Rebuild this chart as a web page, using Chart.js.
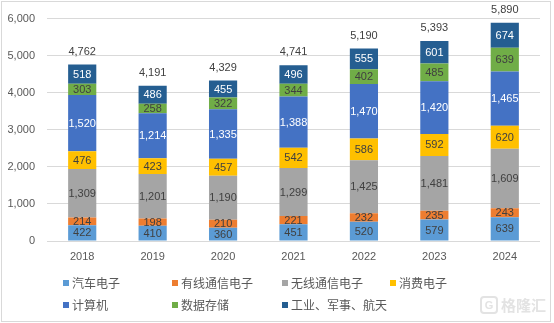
<!DOCTYPE html>
<html><head><meta charset="utf-8">
<script src="https://cdn.jsdelivr.net/npm/chart.js@4"></script>
<style>html,body{margin:0;padding:0;background:#fff}#wrap{width:554px;height:323px;position:relative}</style>
</head><body><div id="wrap"><canvas id="c" width="554" height="323"></canvas></div>
<script>
const categories = ['2018','2019','2020','2021','2022','2023','2024'];
const seriesNames = ['汽车电子','有线通信电子','无线通信电子','消费电子','计算机','数据存储','工业、军事、航天'];
const auto      = [422,410,360,451,520,579,639];
const wired     = [214,198,210,221,232,235,243];
const wireless  = [1309,1201,1190,1299,1425,1481,1609];
const consumer  = [476,423,457,542,586,592,620];
const computer  = [1520,1214,1335,1388,1470,1420,1465];
const storage   = [303,258,322,344,402,485,639];
const industry  = [518,486,455,496,555,601,674];
const totals    = [4762,4191,4329,4741,5190,5393,5890];
const yTicks    = [0,1000,2000,3000,4000,5000,6000];

const colors = ['#5B9BD5','#ED7D31','#A5A5A5','#FFC000','#4472C4','#70AD47','#255E91'];
const labelColors = ['#404040','#404040','#404040','#404040','#ffffff','#404040','#ffffff'];
const values = [auto,wired,wireless,consumer,computer,storage,industry];

const fmt = v => v.toLocaleString('en-US');

const labelPlugin = {
  id:'labels',
  afterDatasetsDraw(chart){
    const ctx = chart.ctx;
    ctx.save();
    ctx.font = '11px "Liberation Sans", Arial, sans-serif';
    ctx.textAlign='center'; ctx.textBaseline='middle';
    chart.data.datasets.forEach((ds,di)=>{
      const meta = chart.getDatasetMeta(di);
      meta.data.forEach((bar,i)=>{
        const p = bar.getProps(['x','y','base'],true);
        ctx.fillStyle = labelColors[di];
        ctx.fillText(fmt(ds.data[i]), p.x, (p.y+p.base)/2+0.5);
      });
    });
    const ys = chart.scales.y;
    const topMeta = chart.getDatasetMeta(chart.data.datasets.length-1);
    ctx.fillStyle='#404040';
    totals.forEach((t,i)=>{
      const x = topMeta.data[i].x;
      ctx.fillText(fmt(t), x, ys.getPixelForValue(t)-13);
    });
    ctx.restore();
  },
  afterDraw(chart){
    const ctx = chart.ctx;
    ctx.save();
    // legend
    const colX=[63,172,282,390], rowY=[283,305];
    ctx.font='12px "Noto Sans CJK SC", sans-serif';
    ctx.textBaseline='middle'; ctx.textAlign='left';
    seriesNames.forEach((n,k)=>{
      const x=colX[k%4], y=rowY[Math.floor(k/4)];
      ctx.fillStyle=colors[k];
      ctx.fillRect(x,y-3,6,6);
      ctx.fillStyle='#595959';
      ctx.fillText(n,x+9,y);
    });
    // watermark
    ctx.strokeStyle='#e3e3e3'; ctx.lineWidth=2;
    ctx.beginPath(); ctx.roundRect(481,297,16,16,3); ctx.stroke();
    ctx.fillStyle='#e3e3e3';
    ctx.font='bold 11px "Liberation Sans", sans-serif'; ctx.textAlign='center';
    ctx.fillText('G',489,305.5);
    ctx.font='bold 15px "Noto Sans CJK SC", sans-serif'; ctx.textAlign='left';
    ctx.fillText('格隆汇',501,305);
    // border
    ctx.strokeStyle='#d9d9d9'; ctx.lineWidth=1;
    ctx.strokeRect(1.5,1.5,549,320);
    ctx.restore();
  }
};

new Chart(document.getElementById('c'),{
  type:'bar',
  data:{
    labels:categories,
    datasets: seriesNames.map((n,k)=>({label:n,data:values[k],backgroundColor:colors[k],borderWidth:0,barPercentage:0.4,categoryPercentage:1}))
  },
  options:{
    responsive:false,animation:false,
    layout:{padding:{left:8,right:14,top:0,bottom:0}},
    plugins:{legend:{display:false},tooltip:{enabled:false}},
    scales:{
      x:{stacked:true,grid:{display:false,drawTicks:false},border:{display:false},
         ticks:{color:'#595959',font:{family:'Liberation Sans',size:11},padding:9},
         afterFit(s){s.height=82;}},
      y:{stacked:true,min:0,max:6000,
         afterBuildTicks(s){s.ticks=yTicks.map(v=>({value:v}));},
         grid:{color:'#d9d9d9',drawTicks:false},border:{display:false},
         ticks:{color:'#595959',font:{family:'Liberation Sans',size:11},padding:12,callback:v=>fmt(v)},
         afterFit(s){s.width=39;}}
    }
  },
  plugins:[labelPlugin]
});
</script></body></html>
